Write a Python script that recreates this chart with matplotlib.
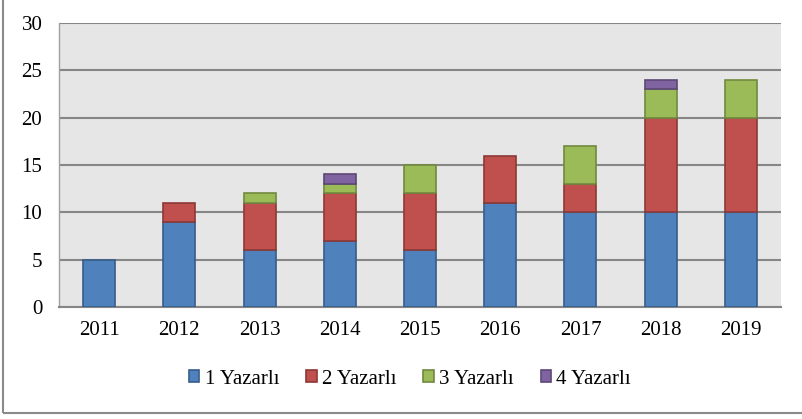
import matplotlib
matplotlib.use("Agg")
import matplotlib.pyplot as plt
import numpy as np
from matplotlib.patches import Rectangle

years = ["2011", "2012", "2013", "2014", "2015", "2016", "2017", "2018", "2019"]
series_names = ["1 Yazarlı", "2 Yazarlı", "3 Yazarlı", "4 Yazarlı"]
y1 = [5, 9, 6, 7, 6, 11, 10, 10, 10]
y2 = [0, 2, 5, 5, 6, 5, 3, 10, 10]
y3 = [0, 0, 1, 1, 3, 0, 4, 3, 4]
y4 = [0, 0, 0, 1, 0, 0, 0, 1, 0]
y_ticks = [0, 5, 10, 15, 20, 25, 30]

faces = ["#4f81bd", "#c0504d", "#9bbb59", "#8064a2"]
edges = ["#385d8a", "#8c3836", "#71893f", "#5c4776"]

plt.rcParams['font.family'] = ['Liberation Serif', 'DejaVu Serif']

W, H = 802, 419
fig = plt.figure(figsize=(W / 100, H / 100), dpi=100)
fig.patches.append(Rectangle((3 / W, 6 / H), 810 / W, (H - 5) / H, transform=fig.transFigure,
                             fill=False, edgecolor="#8a8a8a", linewidth=1.5))

left, right, top, bottom = 59, 781, 23, 307
ax = fig.add_axes([left / W, 1 - bottom / H, (right - left) / W, (bottom - top) / H])
ax.set_facecolor("#e6e6e6")

x = np.arange(len(years))
data = [y1, y2, y3, y4]
base = np.zeros(len(years))
for vals, name, fc, ec in zip(data, series_names, faces, edges):
    v = np.array(vals, dtype=float)
    mask = v > 0
    ax.bar(x[mask], v[mask], bottom=base[mask], width=0.4, color=fc, edgecolor=ec,
           linewidth=1.2, zorder=3, label=name)
    base += v

ax.set_xlim(-0.5, len(years) - 0.5)
ax.set_ylim(0, 30)
ax.set_yticks(y_ticks)
ax.set_xticks(x)
ax.set_xticklabels(years)
ax.yaxis.grid(True, color="#868686", linewidth=1.5, zorder=1)
ax.tick_params(length=0, labelsize=15, colors="black")
ax.tick_params(axis='y', pad=12)
ax.tick_params(axis='x', pad=10)
for s in ["top", "right"]:
    ax.spines[s].set_visible(False)
ax.spines["left"].set_color("#a0a0a0")
ax.spines["left"].set_linewidth(1.0)
ax.spines["bottom"].set_color("#868686")
ax.spines["bottom"].set_linewidth(1.5)

leg = fig.legend(loc="center", bbox_to_anchor=(410 / W, 1 - 379 / H), ncol=4, frameon=False,
                 fontsize=15, handlelength=0.5, handleheight=0.5, handletextpad=0.25,
                 columnspacing=1.3)

fig.savefig("out.png", dpi=100)
